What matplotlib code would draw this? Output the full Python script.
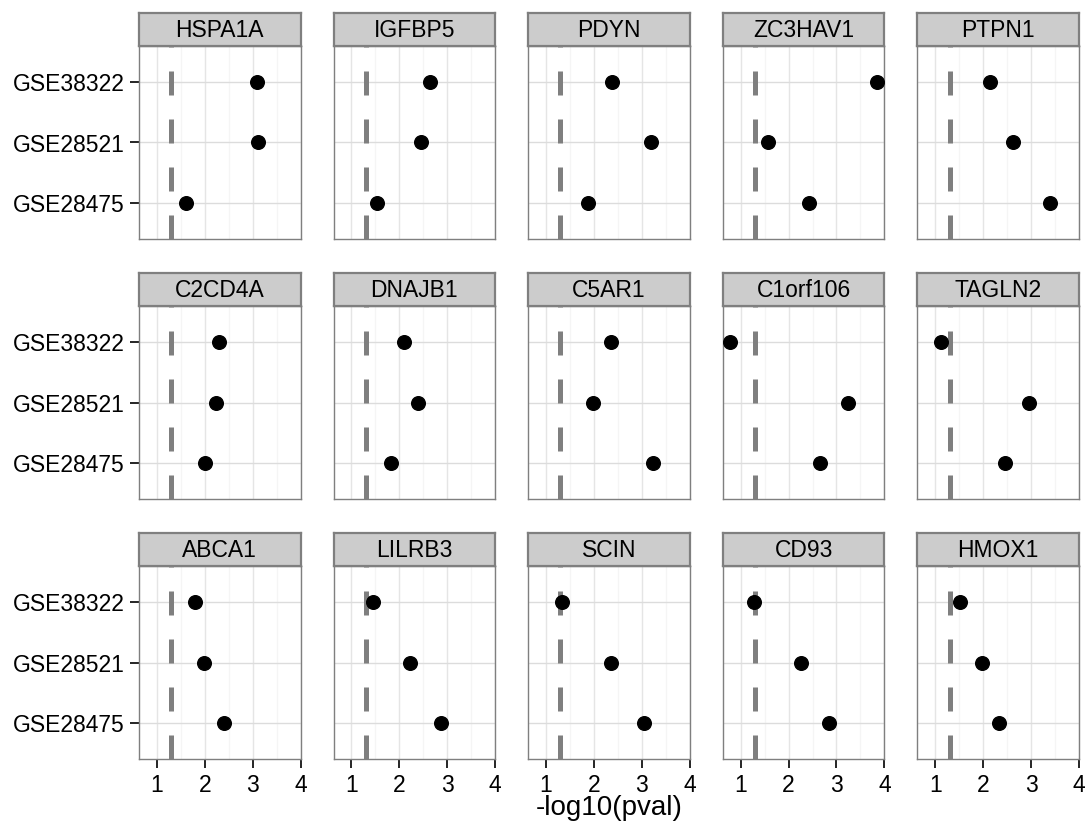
import numpy as np
import matplotlib.pyplot as plt

# genes, one facet each, read row by row
genes = ["HSPA1A", "IGFBP5", "PDYN", "ZC3HAV1", "PTPN1",
         "C2CD4A", "DNAJB1", "C5AR1", "C1orf106", "TAGLN2",
         "ABCA1", "LILRB3", "SCIN", "CD93", "HMOX1"]

# y categories, bottom to top
datasets = ["GSE28475", "GSE28521", "GSE38322"]

# -log10(pval) per gene for each dataset
gse38322 = [3.09, 2.63, 2.37, 3.84, 2.14,
            2.30, 2.10, 2.36, 0.78, 1.12,
            1.79, 1.45, 1.34, 1.27, 1.51]
gse28521 = [3.11, 2.45, 3.19, 1.58, 2.62,
            2.23, 2.38, 1.98, 3.24, 2.95,
            1.98, 2.23, 2.35, 2.26, 1.98]
gse28475 = [1.60, 1.53, 1.87, 2.42, 3.39,
            2.00, 1.83, 3.23, 2.66, 2.45,
            2.40, 2.86, 3.05, 2.85, 2.33]

cutoff = -np.log10(0.05)

plt.rcParams["font.family"] = ["Liberation Sans", "DejaVu Sans"]

W, H = 1089, 830
fig = plt.figure(figsize=(W / 100, H / 100), dpi=100)


def box(x0, y0, w, h):
    return [x0 / W, 1 - (y0 + h) / H, w / W, h / H]


left0, pw, gapx = 139, 161.6, 33
top0, ph, pitch, sh = 46, 193, 260, 33

allv = np.concatenate([gse38322, gse28521, gse28475])
lo, hi = allv.min(), allv.max()
pad = 0.05 * (hi - lo)

vals = np.array([gse28475, gse28521, gse38322])  # rows follow datasets
ypos = np.arange(1, len(datasets) + 1)

for i, gene in enumerate(genes):
    r, c = divmod(i, 5)
    x0 = left0 + c * (pw + gapx)
    y0 = top0 + r * pitch
    ax = fig.add_axes(box(x0, y0, pw, ph))
    ax.set_xlim(lo - pad, hi + pad)
    ax.set_ylim(0.4, 3.6)
    ax.set_xticks([1, 2, 3, 4])
    ax.set_xticks([1.5, 2.5, 3.5], minor=True)
    ax.set_yticks(ypos)
    ax.grid(which="major", axis="y", color="#DCDCDC", lw=1.0)
    ax.grid(which="major", axis="x", color="#E5E5E5", lw=1.0)
    ax.grid(which="minor", axis="x", color="#F5F5F5", lw=1.0)
    ax.set_axisbelow(True)
    for s in ax.spines.values():
        s.set_color("#7F7F7F")
        s.set_linewidth(1.0)

    ax.axvline(cutoff, color="#7F7F7F", lw=3.6, dashes=(4.8, 4.8), zorder=2)
    ax.plot(vals[:, i], ypos, "o", color="black", ms=9.8, zorder=3)

    ax.tick_params(which="minor", length=0)
    ax.tick_params(which="major", length=6.5, width=1.2, color="black",
                   labelsize=16.5, labelcolor="black", pad=4)
    if c == 0:
        ax.set_yticklabels(datasets)
    else:
        ax.tick_params(axis="y", length=0, labelleft=False)
    if r == 2:
        ax.set_xticklabels(["1", "2", "3", "4"])
    else:
        ax.tick_params(axis="x", length=0, labelbottom=False)

    # facet strip
    sax = fig.add_axes(box(x0, y0 - sh, pw, sh))
    sax.set_facecolor("#CCCCCC")
    sax.set_xticks([])
    sax.set_yticks([])
    for s in sax.spines.values():
        s.set_color("#7F7F7F")
        s.set_linewidth(1.6)
    sax.text(0.5, 0.48, gene, ha="center", va="center", fontsize=16.5,
             transform=sax.transAxes)

fig.text((left0 + 1079) / 2 / W, 1 - 808 / H, "-log10(pval)",
         ha="center", va="center", fontsize=20)

fig.savefig("out.png", dpi=100)
